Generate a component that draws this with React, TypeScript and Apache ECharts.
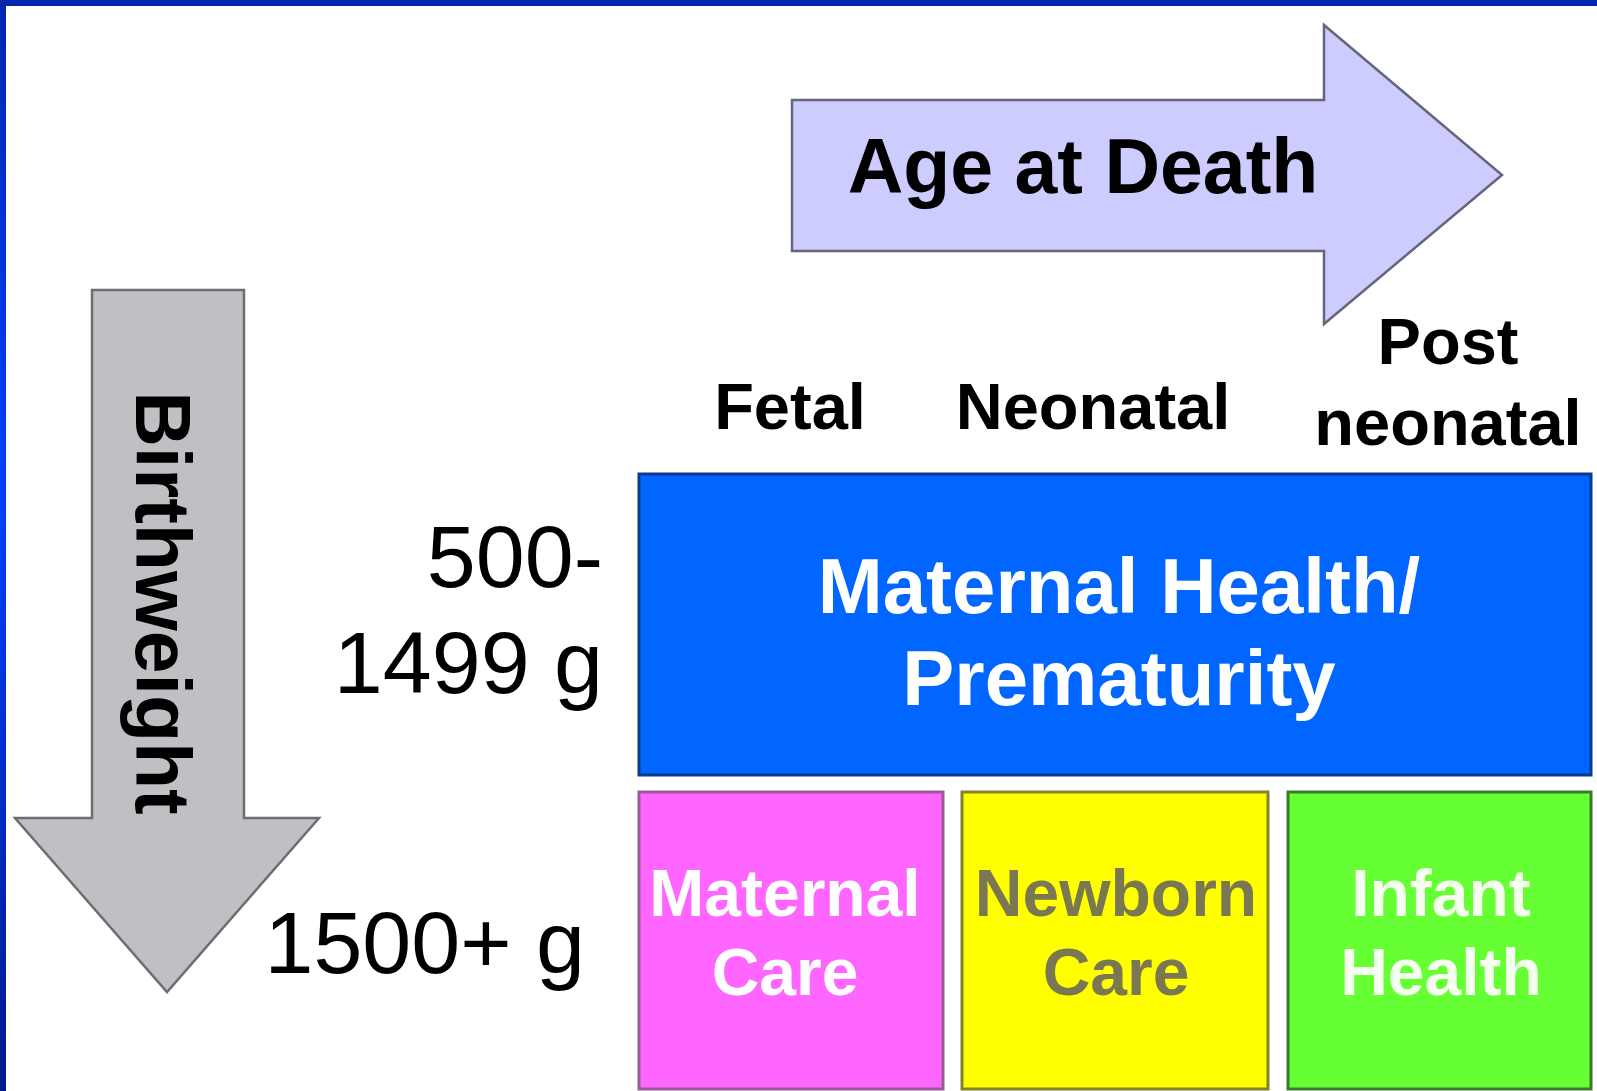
import React, { useEffect, useRef } from "react";
import * as echarts from "echarts";

// ---- content (text of the diagram) ----
const axisTitles = ["Age at Death", "Birthweight"];
const ageCategories = ["Fetal", "Neonatal", "Post\nneonatal"];
const birthweightRows = ["500-\n1499 g", "1500+ g"];
const periodLabels = [
  "Maternal Health/\nPrematurity",
  "Maternal\nCare",
  "Newborn\nCare",
  "Infant\nHealth",
];

const W = 1597;
const H = 1091;
const FONT = '"Liberation Sans", Arial, Helvetica, sans-serif';

function textBlock(
  label: string,
  x: number,
  cy: number,
  gap: number,
  size: number,
  weight: string,
  fill: string,
  align: string = "center"
) {
  const parts = label.split("\n");
  const n = parts.length;
  return parts.map((t, i) => ({
    type: "text",
    x,
    y: cy + (i - (n - 1) / 2) * gap,
    silent: true,
    style: {
      text: t,
      fill,
      font: `${weight} ${size}px ${FONT}`,
      align,
      verticalAlign: "middle",
    },
  }));
}

export default function App() {
  const ref = useRef<HTMLDivElement>(null);

  useEffect(() => {
    document.body.style.margin = "0";
    if (!ref.current) return;
    const chart = echarts.init(ref.current, undefined, { renderer: "svg" });

    const headerLayout = [
      { x: 790, y: 406 },
      { x: 1093, y: 406 },
      { x: 1448, y: 381.5 },
    ];
    const rowLayout = [
      { x: 603, y: 609, gap: 106 },
      { x: 585, y: 942, gap: 106 },
    ];
    const boxLayout = [
      { x: 639, y: 474, w: 952, h: 301, fill: "#0066FF", stroke: "#0B3A8E", tx: 1119, ty: 632, gap: 92, size: 78, color: "#FFFFFF" },
      { x: 639, y: 792, w: 304, h: 297, fill: "#FF66FF", stroke: "#9A5C96", tx: 785, ty: 932.5, gap: 79, size: 66, color: "#FFFFFF" },
      { x: 962, y: 792, w: 306, h: 297, fill: "#FFFF00", stroke: "#84822A", tx: 1116, ty: 932.5, gap: 79, size: 66, color: "#7A7852" },
      { x: 1288, y: 792, w: 303, h: 297, fill: "#66FF33", stroke: "#3B7A2C", tx: 1441, ty: 932.5, gap: 79, size: 66, color: "#F4FFF0" },
    ];

    const elements: any[] = [];

    // frame
    elements.push({
      type: "rect",
      shape: { x: 0, y: 0, width: 6, height: H },
      silent: true,
      style: {
        fill: new echarts.graphic.LinearGradient(0, 0, 0, 1, [
          { offset: 0, color: "#0026B0" },
          { offset: 0.45, color: "#0040FF" },
          { offset: 1, color: "#00188E" },
        ]),
      },
    });
    elements.push({
      type: "rect",
      shape: { x: 0, y: 0, width: W, height: 6 },
      silent: true,
      style: { fill: "#0026B0" },
    });

    // Age at Death arrow
    elements.push({
      type: "polygon",
      silent: true,
      shape: {
        points: [
          [792, 100],
          [1324, 100],
          [1324, 25],
          [1502, 175],
          [1324, 324],
          [1324, 251],
          [792, 251],
        ],
      },
      style: { fill: "#CCCCFF", stroke: "#66667A", lineWidth: 2.5 },
    });
    elements.push(...textBlock(axisTitles[0], 1083, 166, 0, 77, "bold", "#000000"));

    // Birthweight arrow
    elements.push({
      type: "polygon",
      silent: true,
      shape: {
        points: [
          [92, 290],
          [244, 290],
          [244, 818],
          [319, 818],
          [167, 992],
          [15, 818],
          [92, 818],
        ],
      },
      style: { fill: "#C0C0C4", stroke: "#6E6E72", lineWidth: 2.5 },
    });
    elements.push({
      type: "text",
      x: 163,
      y: 603,
      rotation: -Math.PI / 2,
      silent: true,
      style: {
        text: axisTitles[1],
        fill: "#000000",
        font: `bold 77px ${FONT}`,
        align: "center",
        verticalAlign: "middle",
      },
    });

    // column headers
    ageCategories.forEach((c, i) => {
      elements.push(...textBlock(c, headerLayout[i].x, headerLayout[i].y, 81, 65, "bold", "#000000"));
    });

    // row labels
    birthweightRows.forEach((r, i) => {
      const L = rowLayout[i];
      elements.push(...textBlock(r, L.x, L.y, L.gap, 88, "normal", "#000000", "right"));
    });

    // boxes
    periodLabels.forEach((p, i) => {
      const B = boxLayout[i];
      elements.push({
        type: "rect",
        silent: true,
        shape: { x: B.x, y: B.y, width: B.w, height: B.h },
        style: { fill: B.fill, stroke: B.stroke, lineWidth: 3 },
      });
      elements.push(...textBlock(p, B.tx, B.ty, B.gap, B.size, "bold", B.color));
    });

    chart.setOption({
      animation: false,
      backgroundColor: "#FFFFFF",
      graphic: { elements },
    });

    return () => chart.dispose();
  }, []);

  return (
    <div
      ref={ref}
      style={{ position: "absolute", left: 0, top: 0, width: W, height: H }}
    />
  );
}
